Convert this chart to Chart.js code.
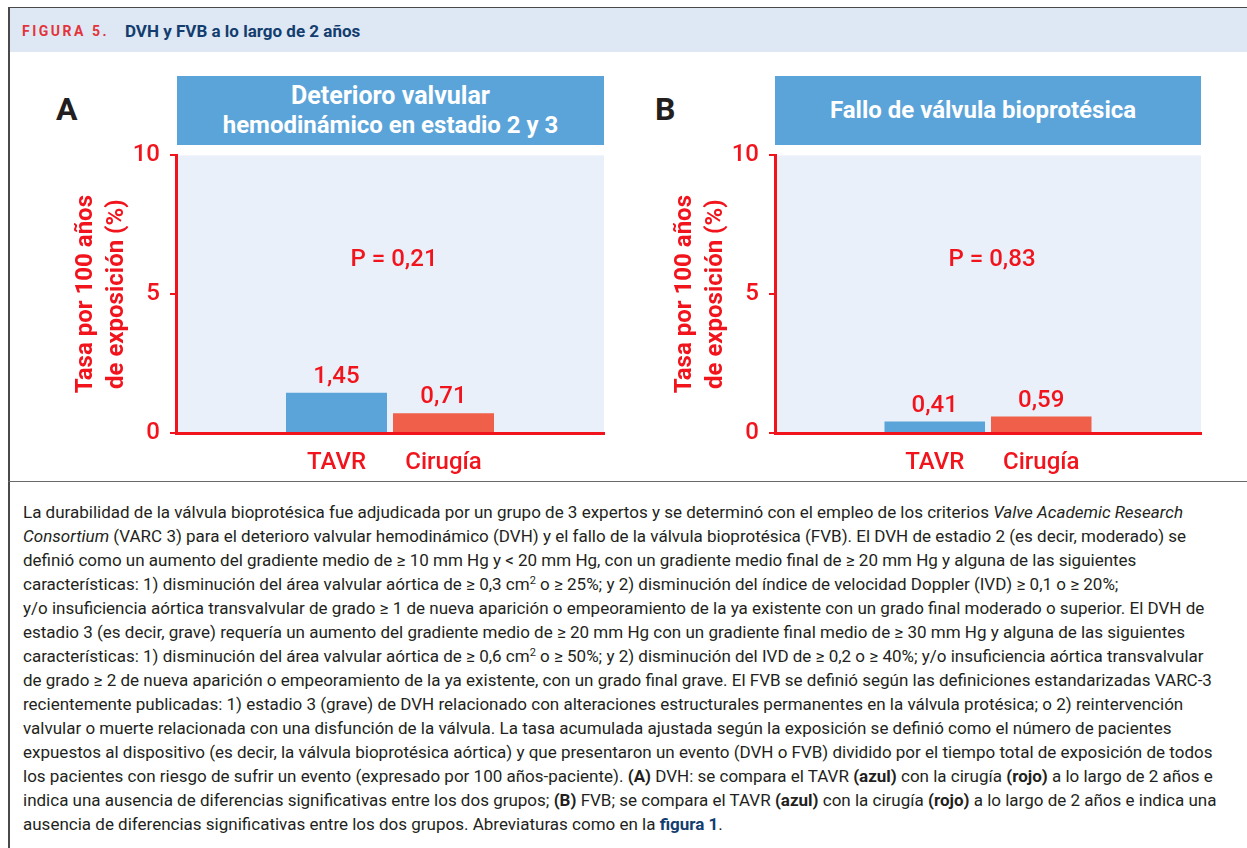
<!DOCTYPE html>
<html lang="es">
<head>
<meta charset="utf-8">
<title>Figura 5. DVH y FVB a lo largo de 2 años</title>
<script src="https://cdn.jsdelivr.net/npm/chart.js@4.4.1/dist/chart.umd.min.js"></script>
<style>
  body { margin: 0; width: 1247px; height: 848px; position: relative; overflow: hidden; background: #fff; font-family: Roboto, sans-serif; color: #231f20; }
  .frame { position: absolute; left: 8px; top: 7px; width: 1245px; height: 845px; border-left: 2px solid #4a4a4a; border-top: 1px solid #4a4a4a; box-sizing: border-box; }
  .head { position: absolute; left: 10px; top: 8px; width: 1237px; height: 44px; background: #dde8f4; }
  .head .fig { position: absolute; left: 12px; top: 0; line-height: 46px; font-size: 14px; font-weight: bold; color: #e2343c; letter-spacing: 2.5px; }
  .head .ttl { position: absolute; left: 115px; top: 0; line-height: 46px; font-size: 17px; font-weight: bold; color: #133d6e; }
  .divider { position: absolute; left: 8px; top: 481px; width: 1239px; height: 1px; background: #6a6a6a; }
  .letter { position: absolute; top: 93px; font-size: 32px; line-height: 32px; font-weight: bold; color: #231f20; }
  .tbox { position: absolute; top: 76px; height: 69px; background: #5ba4d9; color: #fff; font-weight: bold; font-size: 24px; line-height: 29px; display: flex; align-items: center; justify-content: center; text-align: center; }
  canvas { position: absolute; }
  .caption { position: absolute; left: 23px; top: 500px; font-size: 17px; line-height: 24px; white-space: nowrap; color: #231f20; }
  .caption sup { font-size: 11px; line-height: 0; vertical-align: 6px; }
  .caption .ref { color: #133d6e; font-weight: bold; }
</style>
</head>
<body>
<div class="frame"></div>
<div class="head"><span class="fig">FIGURA 5.</span><span class="ttl">DVH y FVB a lo largo de 2 años</span></div>

<div class="letter" style="left:56px">A</div>
<div class="tbox" style="left:177px; width:427px"><span><span style="font-size:25px">Deterioro valvular</span><br>hemodinámico en estadio 2 y 3</span></div>
<canvas id="chartA" width="570" height="349" style="left:40px; top:131px"></canvas>

<div class="letter" style="left:655px">B</div>
<div class="tbox" style="left:775px; width:426px"><span style="position:relative; left:-5px">Fallo de válvula bioprotésica</span></div>
<canvas id="chartB" width="570" height="349" style="left:639px; top:131px"></canvas>

<div class="divider"></div>

<div class="caption">
La durabilidad de la válvula bioprotésica fue adjudicada por un grupo de 3 expertos y se determinó con el empleo de los criterios <i>Valve Academic Research</i><br>
<i>Consortium</i> (VARC 3) para el deterioro valvular hemodinámico (DVH) y el fallo de la válvula bioprotésica (FVB). El DVH de estadio 2 (es decir, moderado) se<br>
definió como un aumento del gradiente medio de ≥ 10 mm Hg y &lt; 20 mm Hg, con un gradiente medio final de ≥ 20 mm Hg y alguna de las siguientes<br>
características: 1) disminución del área valvular aórtica de ≥ 0,3 cm<sup>2</sup> o ≥ 25%; y 2) disminución del índice de velocidad Doppler (IVD) ≥ 0,1 o ≥ 20%;<br>
y/o insuficiencia aórtica transvalvular de grado ≥ 1 de nueva aparición o empeoramiento de la ya existente con un grado final moderado o superior. El DVH de<br>
estadio 3 (es decir, grave) requería un aumento del gradiente medio de ≥ 20 mm Hg con un gradiente final medio de ≥ 30 mm Hg y alguna de las siguientes<br>
características: 1) disminución del área valvular aórtica de ≥ 0,6 cm<sup>2</sup> o ≥ 50%; y 2) disminución del IVD de ≥ 0,2 o ≥ 40%; y/o insuficiencia aórtica transvalvular<br>
de grado ≥ 2 de nueva aparición o empeoramiento de la ya existente, con un grado final grave. El FVB se definió según las definiciones estandarizadas VARC-3<br>
recientemente publicadas: 1) estadio 3 (grave) de DVH relacionado con alteraciones estructurales permanentes en la válvula protésica; o 2) reintervención<br>
valvular o muerte relacionada con una disfunción de la válvula. La tasa acumulada ajustada según la exposición se definió como el número de pacientes<br>
expuestos al dispositivo (es decir, la válvula bioprotésica aórtica) y que presentaron un evento (DVH o FVB) dividido por el tiempo total de exposición de todos<br>
los pacientes con riesgo de sufrir un evento (expresado por 100 años-paciente). <b>(A)</b> DVH: se compara el TAVR <b>(azul)</b> con la cirugía <b>(rojo)</b> a lo largo de 2 años e<br>
indica una ausencia de diferencias significativas entre los dos grupos; <b>(B)</b> FVB; se compara el TAVR <b>(azul)</b> con la cirugía <b>(rojo)</b> a lo largo de 2 años e indica una<br>
ausencia de diferencias significativas entre los dos grupos. Abreviaturas como en la <span class="ref">figura 1</span>.
</div>

<script>
// data
const categories = ['TAVR', 'Cirugía'];
const dvhRates = [1.45, 0.71];   // panel A
const fvbRates = [0.41, 0.59];   // panel B
const pTexts = ['P = 0,21', 'P = 0,83'];
const yTitle = ['Tasa por 100 años', 'de exposición (%)'];
const yMax = 10;
const yStep = 5;

const RED = '#f2141c';
const barColors = ['#5ba4d9', '#ef5f4a'];

Chart.defaults.font.family = 'Roboto, sans-serif';

// one empty slot each side so the two bars sit in the middle of the panel
const padLabels = ['', ...categories, ''];
const padData = arr => [null, ...arr, null];
const fmt = v => v.toFixed(2).replace('.', ',');

const plotBg = {
  id: 'plotBg',
  beforeDraw(chart, args, opts) {
    const {ctx, chartArea: a} = chart;
    ctx.save();
    ctx.fillStyle = opts.color;
    ctx.fillRect(a.left, a.top, a.right - a.left, a.bottom - a.top);
    ctx.restore();
  }
};

const barText = {
  id: 'barText',
  afterDatasetsDraw(chart, args, opts) {
    const {ctx, chartArea: a} = chart;
    const vals = chart.data.datasets[0].data;
    ctx.save();
    ctx.font = '500 24px Roboto, sans-serif';
    ctx.fillStyle = RED;
    ctx.textAlign = 'center';
    ctx.textBaseline = 'alphabetic';
    chart.getDatasetMeta(0).data.forEach((bar, i) => {
      if (vals[i] == null) return;
      ctx.fillText(fmt(vals[i]), bar.x, bar.y - 10);
    });
    ctx.textBaseline = 'middle';
    ctx.fillText(opts.p, (a.left + a.right) / 2 + 4, chart.scales.y.getPixelForValue(opts.at));
    ctx.restore();
  }
};

function makePanel(id, values, pText, padRight) {
  return new Chart(document.getElementById(id), {
    type: 'bar',
    data: {
      labels: padLabels,
      datasets: [{
        data: padData(values),
        backgroundColor: [null, ...barColors, null],
        categoryPercentage: 1,
        barPercentage: 0.944
      }]
    },
    options: {
      responsive: false,
      animation: false,
      layout: { padding: { top: 0, right: padRight, left: 0, bottom: 0 } },
      plugins: {
        legend: { display: false },
        tooltip: { enabled: false },
        plotBg: { color: '#e9f0f9' },
        barText: { p: pText, at: 6.25 }
      },
      scales: {
        x: {
          z: 1,
          afterFit: s => { s.height = 47; },
          grid: { display: false },
          border: { display: true, color: RED, width: 3 },
          ticks: { color: RED, font: { size: 24, weight: '500' }, padding: 8, autoSkip: false, maxRotation: 0 }
        },
        y: {
          z: 1,
          min: 0,
          max: yMax,
          afterFit: s => { s.width = 136; },
          grid: { drawOnChartArea: false, drawTicks: true, tickLength: 6, color: RED, lineWidth: 2 },
          border: { display: true, color: RED, width: 3 },
          ticks: { stepSize: yStep, color: RED, font: { size: 24, weight: '500' }, padding: 10 },
          title: {
            display: true,
            text: yTitle,
            color: RED,
            font: { size: 24, weight: 'bold', lineHeight: 1.3 },
            padding: { top: 30, bottom: 0 }
          }
        }
      }
    },
    plugins: [plotBg, barText]
  });
}

makePanel('chartA', dvhRates, pTexts[0], 6);
makePanel('chartB', fvbRates, pTexts[1], 8);
</script>
</body>
</html>
